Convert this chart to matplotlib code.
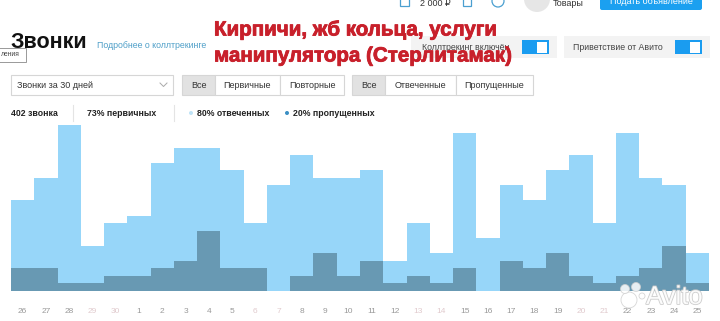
import matplotlib.pyplot as plt
from matplotlib.patches import Rectangle, FancyBboxPatch, Circle
import matplotlib.patheffects as pe

plt.rcParams['font.family'] = ['Liberation Sans', 'DejaVu Sans']

# звонки по дням (последние 30 дней)
days = ["26", "27", "28", "29", "30", "1", "2", "3", "4", "5", "6", "7", "8", "9", "10",
        "11", "12", "13", "14", "15", "16", "17", "18", "19", "20", "21", "22", "23", "24", "25"]
weekend = ["29", "30", "6", "7", "13", "14", "20", "21"]
total_calls = [12, 15, 22, 6, 9, 10, 17, 19, 19, 16, 9, 14, 18, 15, 15,
               16, 4, 9, 5, 21, 7, 14, 12, 16, 18, 9, 21, 15, 14, 5]
missed_calls = [3, 3, 1, 1, 2, 2, 3, 4, 8, 3, 3, 0, 2, 5, 2,
                4, 1, 2, 1, 3, 0, 4, 3, 5, 2, 1, 2, 3, 6, 1]

light = "#97d6f9"
dark = "#6899b3"

W, H = 720, 321
fig = plt.figure(figsize=(W / 100, H / 100), dpi=100)

# слой интерфейса в пиксельных координатах
ui = fig.add_axes([0, 0, 1, 1], zorder=0)
ui.set_xlim(0, W)
ui.set_ylim(H, 0)
ui.axis("off")

# верхняя строка (обрезана)
ui.text(420, 3, "2 000 ₽", fontsize=6.5, color="#333333", va="center")
ui.add_patch(Rectangle((400, -4), 9, 10, fc="none", ec="#4a9fd0", lw=0.9))
ui.add_patch(Rectangle((463, -4), 8, 10, fc="none", ec="#4a9fd0", lw=0.9))
ui.add_patch(Circle((498, 1), 6, fc="none", ec="#4a9fd0", lw=0.9))
ui.add_patch(Circle((537, -1), 13, fc="#e6e6e6", ec="none"))
ui.text(553, 3, "Товары", fontsize=6.5, color="#333333", va="center")
ui.add_patch(FancyBboxPatch((600, -10), 102, 20, boxstyle="round,pad=0,rounding_size=2",
                            fc="#1ba0f0", ec="none"))
ui.text(651, 2, "Подать объявление", fontsize=6.5, color="white", ha="center", va="center")

# заголовок
ui.text(10, 43, "Звонки", fontsize=15.5, fontweight="bold", color="#111111", va="center")
ui.text(97, 46, "Подробнее о коллтрекинге", fontsize=6.3, color="#4e9fc8", va="center")
ui.add_patch(Rectangle((-2, 48), 28, 14, fc="white", ec="#999999", lw=0.7))
ui.text(1, 55, "ления", fontsize=4.8, color="#444444", va="center")

# переключатели
ui.add_patch(Rectangle((411, 36), 146, 22, fc="#f3f3f3", ec="none"))
ui.text(422, 47, "Коллтрекинг включён", fontsize=6.3, color="#444444", va="center")
ui.add_patch(Rectangle((564, 36), 146, 22, fc="#f3f3f3", ec="none"))
ui.text(573, 47, "Приветствие от Авито", fontsize=6.3, color="#444444", va="center")
for tx in (522, 675):
    ui.add_patch(Rectangle((tx, 40), 27, 14, fc="#1a9cf0", ec="none"))
    ui.add_patch(Rectangle((tx + 15, 41.5), 10, 11, fc="white", ec="none"))

# красная надпись
red_fx = [pe.withStroke(linewidth=0.6, foreground="#c8202b")]
ui.text(214, 30, "Кирпичи, жб кольца, услуги", fontsize=14.8, fontweight="bold",
        color="#c8202b", va="center", path_effects=red_fx)
ui.text(214, 56, "манипулятора (Стерлитамак)", fontsize=14.8, fontweight="bold",
        color="#c8202b", va="center", path_effects=red_fx)

# выпадающий список
ui.add_patch(Rectangle((11, 75), 162, 20, fc="white", ec="#d6d6d6", lw=0.8))
ui.text(17, 85, "Звонки за 30 дней", fontsize=6.5, color="#333333", va="center")
ui.plot([160, 163.5, 167], [83, 86.5, 83], color="#aaaaaa", lw=0.7)

# группы кнопок
groups = [
    [(182, 215, "Все"), (215, 280, "Первичные"), (280, 344, "Повторные")],
    [(352, 385, "Все"), (385, 456, "Отвеченные"), (456, 533, "Пропущенные")],
]
for grp in groups:
    for i, (x0, x1, label) in enumerate(grp):
        ui.add_patch(Rectangle((x0, 75), x1 - x0, 20, fc="#e2e2e2" if i == 0 else "white",
                               ec="#d6d6d6", lw=0.8))
        ui.text((x0 + x1) / 2, 85, label, fontsize=6.5, color="#333333",
                ha="center", va="center")

# строка статистики
ui.text(11, 113, "402 звонка", fontsize=6.3, fontweight="bold", color="#222222", va="center")
ui.plot([73, 73], [105, 121], color="#e4e4e4", lw=0.8)
ui.text(87, 113, "73% первичных", fontsize=6.3, fontweight="bold", color="#222222", va="center")
ui.plot([174, 174], [105, 121], color="#e4e4e4", lw=0.8)
ui.add_patch(Circle((191, 113), 2, fc="#bfe3f7", ec="none"))
ui.text(197, 113, "80% отвеченных", fontsize=6.3, fontweight="bold", color="#222222", va="center")
ui.add_patch(Circle((287, 113), 2, fc="#3a8fc4", ec="none"))
ui.text(293, 113, "20% пропущенных", fontsize=6.3, fontweight="bold", color="#222222", va="center")

# график
ax = fig.add_axes([11 / W, 1 - 291 / H, 698 / W, 166 / H], zorder=1)
ax.patch.set_alpha(0)
x = list(range(len(days)))
ax.bar(x, total_calls, width=1.0, color=light, linewidth=0)
ax.bar(x, missed_calls, width=1.0, color=dark, linewidth=0)
ax.set_xlim(-0.5, len(days) - 0.5)
ax.set_ylim(0, 22)
ax.set_yticks([])
ax.set_xticks(x)
ax.set_xticklabels(days, fontsize=6)
for lbl in ax.get_xticklabels():
    lbl.set_color("#e0cacd" if lbl.get_text() in weekend else "#999999")
ax.tick_params(axis="x", length=0, pad=12)
for s in ax.spines.values():
    s.set_visible(False)

# водяной знак Avito
wm = fig.add_axes([0, 0, 1, 1], zorder=5)
wm.set_xlim(0, W)
wm.set_ylim(H, 0)
wm.axis("off")
for cx, cy, r in [(629, 300, 8), (625, 289, 4.5), (636, 287, 4.5), (642, 296, 3)]:
    wm.add_patch(Circle((cx, cy), r, fc="white", ec="#cfcfcf", lw=0.6, alpha=0.85))
wm.text(646, 297, "Avito", fontsize=18.5, color="white", va="center", alpha=0.9,
        path_effects=[pe.withStroke(linewidth=1.2, foreground="#c8c8c8")])

fig.savefig("out.png", dpi=100)
